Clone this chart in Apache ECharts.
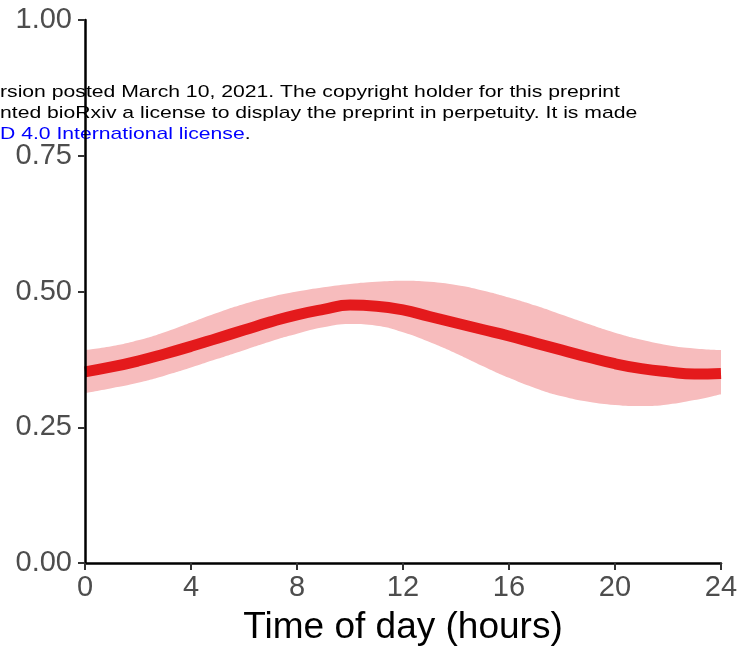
<!DOCTYPE html>
<html>
<head>
<meta charset="utf-8">
<script src="https://cdn.jsdelivr.net/npm/echarts@6/dist/echarts.min.js"></script>
<style>
  html, body { margin: 0; padding: 0; background: #fff; }
  #chart { width: 742px; height: 651px; }
</style>
</head>
<body>
<div id="chart"></div>
<script>
// values
var hours = [0, 1, 2, 3, 4, 5, 6, 7, 8, 9, 10, 11, 12, 13, 14, 15, 16, 17, 18, 19, 20, 21, 22, 23, 24];
var fit   = [0.352, 0.361, 0.372, 0.385, 0.399, 0.414, 0.429, 0.444, 0.457, 0.467, 0.475, 0.473, 0.466, 0.454,
             0.442, 0.430, 0.418, 0.405, 0.392, 0.379, 0.367, 0.358, 0.352, 0.348, 0.349];
var upper = [0.392, 0.399, 0.410, 0.425, 0.443, 0.461, 0.477, 0.490, 0.500, 0.508, 0.514, 0.518, 0.520, 0.518,
             0.512, 0.502, 0.489, 0.474, 0.457, 0.440, 0.424, 0.411, 0.401, 0.395, 0.392];
var lower = [0.313, 0.322, 0.332, 0.345, 0.360, 0.376, 0.392, 0.408, 0.422, 0.434, 0.440, 0.437, 0.425, 0.407,
             0.386, 0.363, 0.341, 0.322, 0.307, 0.297, 0.291, 0.289, 0.292, 0.300, 0.311];
var yTicks = [0, 0.25, 0.5, 0.75, 1];
var xTicks = [0, 4, 8, 12, 16, 20, 24];
var note = [
    "rsion posted March 10, 2021. The copyright holder for this preprint",
    "nted bioRxiv a license to display the preprint in perpetuity. It is made",
    "D 4.0 International license"
];

var font = "'Liberation Sans', Arial, sans-serif";
var chart = echarts.init(document.getElementById("chart"));

var pairs = function(ys) {
    return hours.map(function(h, i) { return [h, ys[i]]; });
};

chart.setOption({
    animation: false,
    grid: { left: 85, right: 21, top: 20, bottom: 88, outerBoundsMode: "none", containLabel: false },
    xAxis: {
        type: "value", min: 0, max: 24, interval: 4, z: 10,
        name: "Time of day (hours)", nameLocation: "middle", nameGap: 46,
        nameTextStyle: { fontFamily: font, fontSize: 37, color: "#000" },
        axisLine: { lineStyle: { color: "#000", width: 2.5 } },
        axisTick: { length: 7, lineStyle: { color: "#333", width: 2 } },
        axisLabel: { fontFamily: font, fontSize: 29, color: "#4d4d4d", margin: 10,
            formatter: function(v) { return xTicks.indexOf(v) >= 0 ? String(v) : ""; } },
        splitLine: { show: false }
    },
    yAxis: {
        type: "value", min: 0, max: 1, interval: 0.25, z: 10,
        axisLine: { show: true, lineStyle: { color: "#000", width: 2.5 } },
        axisTick: { show: true, length: 7, lineStyle: { color: "#333", width: 2 } },
        axisLabel: { fontFamily: font, fontSize: 29, color: "#4d4d4d", margin: 13,
            formatter: function(v) { return yTicks.indexOf(v) >= 0 ? v.toFixed(2) : ""; } },
        splitLine: { show: false }
    },
    graphic: [
        { type: "text", x: 0, y: 83.5, scaleX: 1.245, z: -10, silent: true,
          style: { text: note[0], font: "17px " + font, fill: "#000" } },
        { type: "text", x: 0, y: 104.5, scaleX: 1.245, z: -10, silent: true,
          style: { text: note[1], font: "17px " + font, fill: "#000" } },
        { type: "text", x: 0, y: 125.5, scaleX: 1.245, z: -10, silent: true,
          style: { text: note[2] + "{k|.}", font: "17px " + font, fill: "#0000ff",
                   rich: { k: { fill: "#000", font: "17px " + font } } } }
    ],
    series: [{
        type: "line", data: pairs(upper), smooth: true, symbol: "none", silent: true,
        lineStyle: { width: 0 }, areaStyle: { color: "#f7bcbd", opacity: 1 }, z: 2
    }, {
        type: "line", data: pairs(lower), smooth: true, symbol: "none", silent: true,
        lineStyle: { width: 0 }, areaStyle: { color: "#ffffff", opacity: 1 }, z: 3
    }, {
        type: "line", data: pairs(fit), smooth: true, symbol: "none", silent: true,
        lineStyle: { color: "#e41a1c", width: 11 }, z: 5
    }]
});
</script>
</body>
</html>
